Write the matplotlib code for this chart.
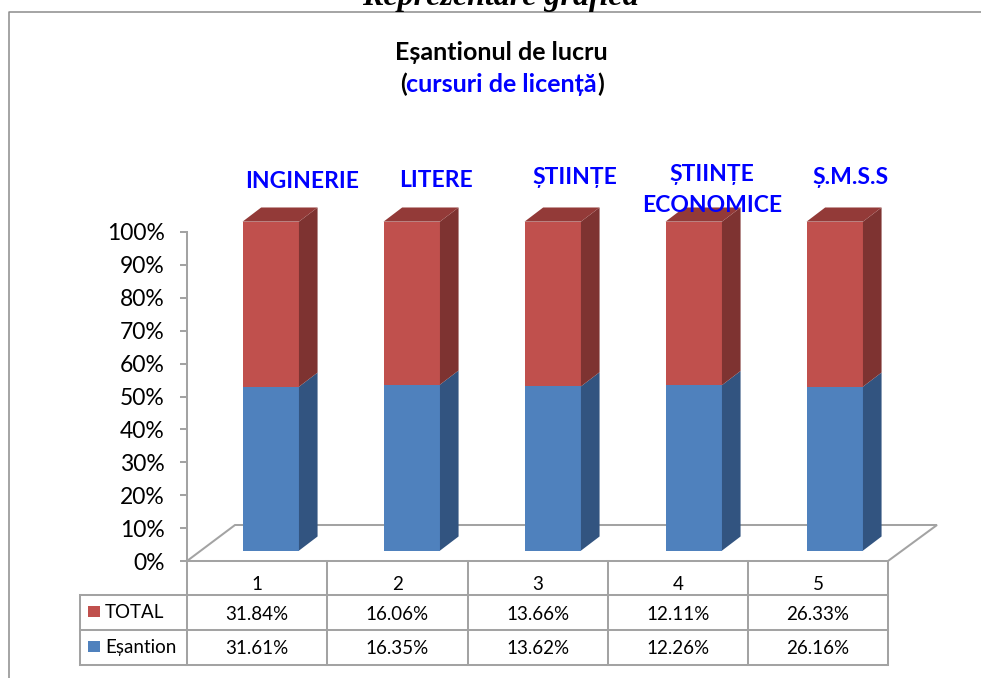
import matplotlib.pyplot as plt
from matplotlib.patches import Polygon, Rectangle

plt.rcParams['font.family'] = ['Lato', 'DejaVu Sans']

W, H = 981, 678

categories = ["1", "2", "3", "4", "5"]
total = [31.84, 16.06, 13.66, 12.11, 26.33]
esantion = [31.61, 16.35, 13.62, 12.26, 26.16]
total_labels = ["31.84%", "16.06%", "13.66%", "12.11%", "26.33%"]
esantion_labels = ["31.61%", "16.35%", "13.62%", "12.26%", "26.16%"]
y_ticks = [0, 10, 20, 30, 40, 50, 60, 70, 80, 90, 100]
y_tick_labels = ["0%", "10%", "20%", "30%", "40%", "50%", "60%", "70%", "80%", "90%", "100%"]

RED, RED_TOP, RED_SIDE = "#C0504D", "#933A38", "#7E3331"
BLUE, BLUE_SIDE = "#4F81BD", "#325480"
GRAY = "#A3A3A3"
LW = 1.45
TABLE_FS = 13.5
HEAD_FS = 16.5
TITLE_FS = 18


def fx(px):
    return px / W


def fy(py):
    return 1 - py / H


fig = plt.figure(figsize=(W / 100, H / 100), dpi=100)

# background layer in pixel coordinates: frame, floor, table
bg = fig.add_axes([0, 0, 1, 1], zorder=0)
bg.set_xlim(0, W)
bg.set_ylim(H, 0)
bg.axis("off")

bg.plot([W, 9, 9], [11.5, 11.5, H], color="#8C8C8C", lw=1.1)
bg.add_patch(Polygon([(187, 561), (235, 525), (937, 525), (888, 561)], closed=True,
                     fill=False, edgecolor=GRAY, lw=LW))

x_grid = [187, 327, 467.5, 608, 748, 888]
row_y = [561, 595, 630, 665]
for y in row_y[1:]:
    bg.plot([80, 888], [y, y], color=GRAY, lw=LW, solid_capstyle="projecting")
for x in x_grid:
    bg.plot([x, x], [561, 665], color=GRAY, lw=LW, solid_capstyle="projecting")
bg.plot([80, 80], [595, 665], color=GRAY, lw=LW, solid_capstyle="projecting")

for i, cat in enumerate(categories):
    cx = (x_grid[i] + x_grid[i + 1]) / 2
    bg.text(cx, 584, cat, ha="center", va="center", fontsize=TABLE_FS, color="black")
    bg.text(cx, 614, total_labels[i], ha="center", va="center", fontsize=TABLE_FS, color="black")
    bg.text(cx, 648, esantion_labels[i], ha="center", va="center", fontsize=TABLE_FS, color="black")

bg.add_patch(Rectangle((88, 606), 12, 11, facecolor=RED, edgecolor="none"))
bg.add_patch(Rectangle((88, 641), 12, 11, facecolor=BLUE, edgecolor="none"))
bg.text(105, 613, "TOTAL", ha="left", va="center", fontsize=TABLE_FS, color="black")
bg.text(105, 648, "Eșantion", ha="left", va="center", fontsize=TABLE_FS, color="black")

# main chart axes: 0% at y=561, 100% at y=232, bar pitch 141 px
ax = fig.add_axes([fx(187), fy(561), 705 / W, (561 - 232) / H], zorder=1)
ax.patch.set_visible(False)
ax.set_xlim(0, 5)
ax.set_ylim(0, 100)
for side in ["top", "right", "bottom"]:
    ax.spines[side].set_visible(False)
ax.spines["left"].set_color(GRAY)
ax.spines["left"].set_linewidth(LW)
ax.set_xticks([])
ax.set_yticks(y_ticks)
ax.set_yticklabels(y_tick_labels, fontsize=16.5, color="black")
ax.tick_params(axis="y", length=5, width=LW, color=GRAY, pad=11)

bar_w = 0.4
shift_x = 0.094
lift = 3.15
depth_x = 0.132
depth_y = 4.3

for i in range(len(categories)):
    x0 = i + 0.5 + shift_x - bar_w / 2
    x1 = x0 + bar_w
    share = esantion[i] / (esantion[i] + total[i]) * 100
    ax.bar(x0, share, bar_w, bottom=lift, align="edge", color=BLUE, clip_on=False, zorder=3)
    ax.bar(x0, 100 - share, bar_w, bottom=lift + share, align="edge", color=RED, clip_on=False, zorder=3)
    mid = lift + share
    top = lift + 100
    ax.add_patch(Polygon([(x1, lift), (x1 + depth_x, lift + depth_y), (x1 + depth_x, mid + depth_y), (x1, mid)],
                         closed=True, facecolor=BLUE_SIDE, edgecolor="none", clip_on=False, zorder=3))
    ax.add_patch(Polygon([(x1, mid), (x1 + depth_x, mid + depth_y), (x1 + depth_x, top + depth_y), (x1, top)],
                         closed=True, facecolor=RED_SIDE, edgecolor="none", clip_on=False, zorder=3))
    ax.add_patch(Polygon([(x0, top), (x1, top), (x1 + depth_x, top + depth_y), (x0 + depth_x, top + depth_y)],
                         closed=True, facecolor=RED_TOP, edgecolor="none", clip_on=False, zorder=3))

# texts over everything
fig.text(fx(500), fy(5), "Reprezentare grafică", ha="center", va="baseline", fontsize=23,
         family=["Liberation Serif", "DejaVu Serif"], style="italic", weight="bold", color="black")
fig.text(fx(501), fy(52), "Eșantionul de lucru", ha="center", va="center", fontsize=TITLE_FS, weight="bold", color="black")
t_y = fy(84)
fig.text(fx(407), t_y, "(", ha="right", va="center", fontsize=TITLE_FS, weight="bold", color="black")
fig.text(fx(501.5), t_y, "cursuri de licență", ha="center", va="center", fontsize=TITLE_FS, weight="bold", color="#0000FF")
fig.text(fx(597), t_y, ")", ha="left", va="center", fontsize=TITLE_FS, weight="bold", color="black")

group_labels = [("INGINERIE", 302, 182), ("LITERE", 436, 181), ("ȘTIINȚE", 575, 177),
                ("ȘTIINȚE", 712, 175), ("ECONOMICE", 712, 206), ("Ș.M.S.S", 850, 177)]
for label, px, py in group_labels:
    fig.text(fx(px), fy(py), label, ha="center", va="center", fontsize=HEAD_FS, weight="bold", color="#0000FF", zorder=5)

fig.savefig("out.png", dpi=100)
